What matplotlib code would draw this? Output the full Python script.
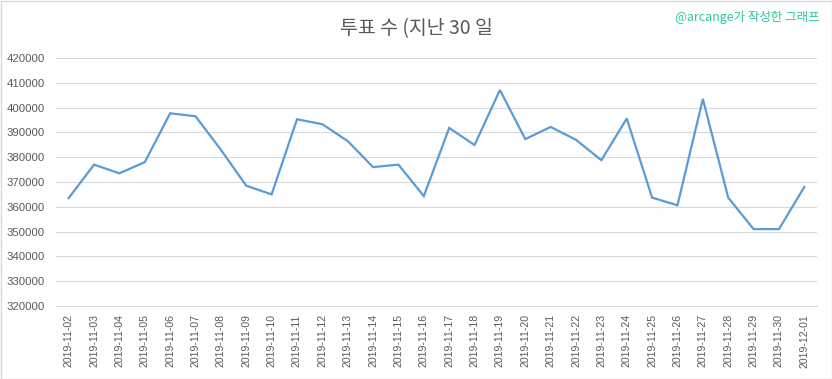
import matplotlib
matplotlib.use("Agg")
import matplotlib.pyplot as plt

dates = ["2019-11-02", "2019-11-03", "2019-11-04", "2019-11-05", "2019-11-06", "2019-11-07",
         "2019-11-08", "2019-11-09", "2019-11-10", "2019-11-11", "2019-11-12", "2019-11-13",
         "2019-11-14", "2019-11-15", "2019-11-16", "2019-11-17", "2019-11-18", "2019-11-19",
         "2019-11-20", "2019-11-21", "2019-11-22", "2019-11-23", "2019-11-24", "2019-11-25",
         "2019-11-26", "2019-11-27", "2019-11-28", "2019-11-29", "2019-11-30", "2019-12-01"]
votes = [363500, 377000, 373500, 378000, 397700, 396500,
         383000, 368500, 365000, 395300, 393300, 386500,
         376000, 377000, 364300, 391800, 384900, 407100,
         387300, 392200, 387000, 378800, 395600, 363700,
         360600, 403500, 363700, 351000, 351000, 368000]
yticks = list(range(320000, 420001, 10000))

title = "투표 수 (지난 30 일"
credit = "@arcange가 작성한 그래프"

fig = plt.figure(figsize=(8.32, 3.79), dpi=100)
fig.patch.set_facecolor("white")
ax = fig.add_axes([56/832, 1-306/379, 761/832, 248/379])

x = list(range(len(dates)))
ax.plot(x, votes, color="#5b9bd5", lw=1.6, solid_joinstyle="miter")
ax.set_xlim(-0.5, len(dates)-0.5)
ax.set_ylim(320000, 420000)
ax.set_yticks(yticks)
ax.set_yticklabels([str(v) for v in yticks], fontsize=8.2, color="#595959", family="Liberation Sans")
ax.set_xticks(x)
ax.set_xticklabels(dates, rotation=90, fontsize=7.6, color="#595959", family="Liberation Sans")
ax.tick_params(axis="x", length=0, pad=6)
ax.tick_params(axis="y", length=0, pad=8)
ax.grid(axis="y", color="#d9d9d9", lw=0.8)
ax.set_axisbelow(True)
for s in ["top", "right", "left"]:
    ax.spines[s].set_visible(False)
ax.spines["bottom"].set_color("#d9d9d9")
ax.spines["bottom"].set_linewidth(0.8)

fig.text(416/832, 1-29/379, title, ha="center", va="center", fontsize=14,
         color="#595959", family=["Noto Sans CJK KR", "DejaVu Sans"])
fig.text(820/832, 1-18/379, credit, ha="right", va="center", fontsize=9,
         color="#2ec4a0", family=["Noto Sans CJK KR", "DejaVu Sans"])

border = plt.Rectangle((0.5/832, 0.5/379), 1-1/832, 1-1/379, transform=fig.transFigure,
                       fill=False, edgecolor="#d9d9d9", lw=1)
fig.add_artist(border)

fig.savefig("out.png", dpi=100)
